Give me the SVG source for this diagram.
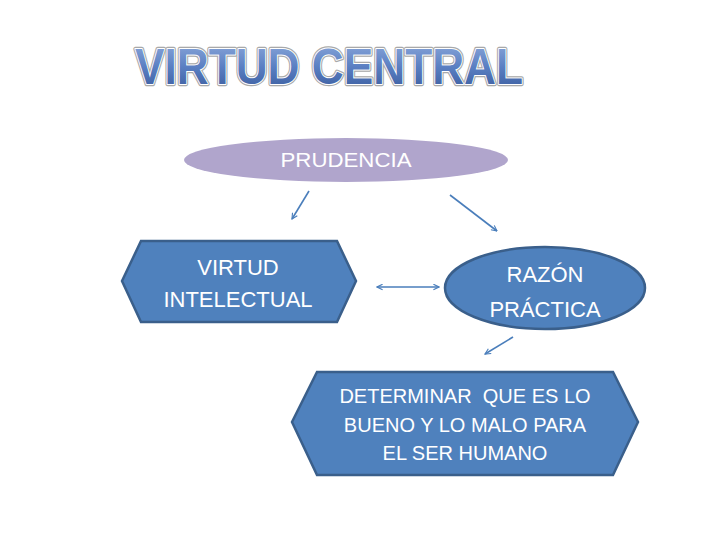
<svg xmlns="http://www.w3.org/2000/svg" width="720" height="540" viewBox="0 0 720 540">
<defs>
<linearGradient id="tg" x1="0" y1="0" x2="0" y2="1">
<stop offset="0" stop-color="#8fabdc"/>
<stop offset="0.5" stop-color="#5a7fc2"/>
<stop offset="1" stop-color="#36589a"/>
</linearGradient>
<marker id="ah" viewBox="0 0 10 10" refX="9" refY="5" markerWidth="7" markerHeight="7" orient="auto-start-reverse" markerUnits="userSpaceOnUse">
<path d="M1,1 L9,5 L1,9" fill="none" stroke="#4a7ebb" stroke-width="1.6"/>
</marker>
</defs>
<style>
.node{fill:#4f81bd;stroke:#3a5f8b;stroke-width:2.5}
.lbl{font-family:"Liberation Sans",Arial,sans-serif;fill:#ffffff;text-anchor:middle}
.conn{stroke:#4a7ebb;stroke-width:1.6;fill:none;marker-end:url(#ah)}
.title{font-family:"Liberation Sans",Arial,sans-serif;font-weight:bold;font-size:50px}
</style>
<rect width="720" height="540" fill="#ffffff"/>
<g id="title">
<text class="title" x="135" y="84" textLength="388" lengthAdjust="spacingAndGlyphs" fill="none" stroke="#a9a9a9" stroke-width="4.5" stroke-linejoin="round">VIRTUD CENTRAL</text>
<text class="title" x="135" y="84" textLength="388" lengthAdjust="spacingAndGlyphs" fill="url(#tg)" stroke="#ffffff" stroke-width="2" stroke-linejoin="round" paint-order="stroke">VIRTUD CENTRAL</text>
</g>
<g id="prudencia">
<ellipse cx="346" cy="160" rx="162" ry="22" fill="#b0a5cc"/>
<text class="lbl" x="346" y="167" font-size="21" textLength="131" lengthAdjust="spacingAndGlyphs">PRUDENCIA</text>
</g>
<g id="virtud-intelectual">
<polygon class="node" points="122,281 141,241 337,241 356,281 337,322 141,322"/>
<text class="lbl" x="238" y="275" font-size="22">VIRTUD</text>
<text class="lbl" x="238" y="307" font-size="22">INTELECTUAL</text>
</g>
<g id="razon-practica">
<ellipse class="node" cx="545" cy="288" rx="100" ry="41"/>
<text class="lbl" x="545" y="282" font-size="22">RAZÓN</text>
<text class="lbl" x="545" y="317" font-size="22">PRÁCTICA</text>
</g>
<g id="determinar">
<polygon class="node" points="292,422 317,372 613,372 638,422 613,475 317,475"/>
<text class="lbl" x="465" y="403" font-size="20" xml:space="preserve">DETERMINAR  QUE ES LO</text>
<text class="lbl" x="465" y="432" font-size="20">BUENO Y LO MALO PARA</text>
<text class="lbl" x="465" y="460" font-size="20">EL SER HUMANO</text>
</g>
<g id="connectors">
<line class="conn" x1="309" y1="191" x2="292" y2="219"/>
<line class="conn" x1="450" y1="195" x2="497" y2="231"/>
<line class="conn" x1="377" y1="287" x2="439" y2="287" marker-start="url(#ah)"/>
<line class="conn" x1="513" y1="337" x2="485" y2="354"/>
</g>
</svg>
